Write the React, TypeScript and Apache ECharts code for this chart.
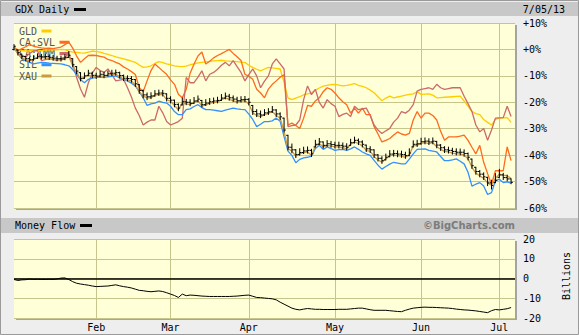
import React, { useEffect, useRef } from 'react';
import * as echarts from 'echarts';

// Trading days per month (2013)
const janDays = [2, 3, 4, 7, 8, 9, 10, 11, 14, 15, 16, 17, 18, 22, 23, 24, 25, 28, 29, 30, 31];
const febDays = [1, 4, 5, 6, 7, 8, 11, 12, 13, 14, 15, 19, 20, 21, 22, 25, 26, 27, 28];
const marDays = [1, 4, 5, 6, 7, 8, 11, 12, 13, 14, 15, 18, 19, 20, 21, 22, 25, 26, 27, 28];
const aprDays = [1, 2, 3, 4, 5, 8, 9, 10, 11, 12, 15, 16, 17, 18, 19, 22, 23, 24, 25, 26, 29, 30];
const mayDays = [1, 2, 3, 6, 7, 8, 9, 10, 13, 14, 15, 16, 17, 20, 21, 22, 23, 24, 28, 29, 30, 31];
const junDays = [3, 4, 5, 6, 7, 10, 11, 12, 13, 14, 17, 18, 19, 20, 21, 24, 25, 26, 27, 28];
const julDays = [1, 2, 3, 5];
const monthNames = ['Jan', 'Feb', 'Mar', 'Apr', 'May', 'Jun', 'Jul'];
const yPercentTicks = [-60, -50, -40, -30, -20, -10, 0, 10];
const yMoneyTicks = [-20, -10, 0, 10, 20];

const seriesNames = ['GLD', 'CA:SVL', 'CA:TMM', 'SIL', 'XAU'];
const seriesColors = ['#ffcc00', '#ff6a1c', '#cc6a6a', '#3390ff', '#cc9944'];

const gldValues = [
  0.3, 0, -0.4, -0.6, -0.5, -0.4, -0.3, -0.5, -0.2, -0.3,
  -0.1, -0.2, 0, -0.1, -0.6, -1.0, -1.1, -1.3, -1.4, -1.0,
  -0.6, -0.8, -1.0, -1.5, -1.9, -2.3, -2.8, -3.2, -3.6, -4.0,
  -4.4, -4.9, -5.9, -6.8, -6.6, -6.2, -5.3, -4.6, -5.0, -5.5,
  -5.8, -6.2, -6.4, -6.5, -6.3, -5.8, -5.5, -5.1, -4.9, -4.7,
  -4.5, -4.3, -4.2, -4.1, -4.3, -4.4, -4.5, -4.6, -4.8, -4.9,
  -6.0, -6.8, -7.5, -8.1, -7.4, -6.8, -7.0, -7.2, -7.4, -12.5,
  -18.3, -19.0, -18.4, -17.9, -17.2, -16.8, -16.4, -15.4, -14.6, -13.9,
  -13.6, -13.3, -13.2, -13.5, -13.8, -13.6, -13.3, -12.9, -13.6, -14.0,
  -14.5, -15.4, -16.4, -17.9, -19.4, -18.4, -17.7, -18.3, -18.0, -17.7,
  -17.3, -17.0, -16.8, -16.0, -17.0, -16.9, -16.8, -17.3, -18.3, -18.2,
  -18.1, -18.0, -17.9, -17.8, -17.7, -19.5, -21.5, -23.5, -24.3, -24.7,
  -26.5, -27.6, -28.6, -26.5, -26.0, -25.9, -25.8, -27.6,
];

const svlValues = [
  0.9, -0.4, 0.3, 1.0, 1.9, 1.2, 0.9, 0.6, 0.4, 0.5,
  0.3, 0.6, 0.9, 1.8, 2.8, 0.5, -2.5, -4.9, -3.5, -2.3,
  -2.2, -2.3, -2.6, -2.9, -3.8, -4.2, -4.9, -5.5, -6.6, -7.4,
  -8.4, -9.5, -14.5, -16.0, -11.9, -8.0, -5.5, -6.8, -8.2, -9.4,
  -11.5, -13.2, -17.0, -18.3, -15.1, -9.0, -5.5, -2.5, -1.0, -5.5,
  -4.5, -3.2, -2.3, -1.6, -0.8, 0, -1.5, -2.8, -4.2, -9.4,
  -10.2, -11.3, -15.1, -16.5, -18.3, -15.0, -13.2, -11.9, -10.5, -9.6,
  -28.6, -27.9, -28.8, -29.9, -26.0, -21.2, -21.5, -19.5, -18.3, -16.0,
  -14.5, -15.1, -16.5, -18.3, -19.8, -20.9, -24.1, -22.2, -24.1, -22.2,
  -24.7, -24.7, -29.2, -32.0, -35.0, -34.4, -33.7, -32.4, -31.2, -32.0,
  -32.4, -31.8, -26.7, -23.5, -26.0, -24.1, -24.1, -25.0, -26.7, -31.0,
  -34.4, -33.1, -33.1, -33.1, -32.8, -32.4, -34.4, -37.0, -39.5, -36.3,
  -42.7, -47.0, -51.0, -45.9, -45.9, -45.9, -36.9, -42.1,
];

const tmmValues = [
  0.9, -1.7, -2.3, -2.9, -1.5, -0.6, -0.4, -4.2, -3.9, -3.6,
  -3.8, -4.2, -3.5, -2.9, -1.7, -5.5, -10.6, -15.0, -18.1, -12.6,
  -9.0, -6.8, -8.0, -8.7, -7.4, -9.5, -11.9, -11.6, -11.3, -14.5,
  -18.0, -22.2, -25.0, -28.6, -27.5, -26.7, -26.7, -21.5, -24.0, -27.3,
  -28.6, -28.0, -27.3, -26.0, -10.6, -12.6, -12.6, -10.5, -8.1, -11.9,
  -9.4, -8.7, -7.5, -6.0, -4.9, -6.2, -4.2, -6.5, -8.7, -11.9,
  -9.5, -7.4, -10.0, -14.5, -12.0, -10.0, -5.5, -3.6, -5.5, -7.4,
  -29.2, -28.8, -28.6, -26.7, -19.0, -13.8, -17.1, -15.1, -20.0, -22.2,
  -19.0, -20.5, -21.5, -25.4, -24.6, -24.1, -25.4, -21.5, -22.8, -22.5,
  -22.2, -25.0, -28.6, -30.5, -31.8, -30.8, -29.9, -27.5, -26.0, -23.5,
  -24.1, -23.0, -20.9, -15.8, -15.1, -14.8, -14.5, -15.1, -13.2, -14.5,
  -15.1, -14.8, -14.5, -14.5, -14.5, -17.7, -20.5, -23.5, -28.6, -31.2,
  -29.9, -34.4, -30.5, -26.0, -25.9, -25.8, -21.5, -25.4,
];

const silValues = [
  0.9, -1.5, -3.6, -4.3, -4.9, -5.5, -5.2, -4.9, -5.0, -5.2,
  -5.3, -5.4, -5.5, -5.8, -6.2, -7.6, -9.4, -11.5, -12.6, -11.3,
  -10.9, -10.6, -10.6, -10.5, -10.4, -10.2, -10.0, -10.8, -11.3, -11.9,
  -12.8, -13.8, -16.0, -18.3, -21.2, -20.6, -20.3, -19.6, -20.0, -20.3,
  -21.5, -23.5, -24.7, -24.7, -22.8, -22.5, -21.6, -20.9, -22.0, -22.8,
  -22.8, -23.0, -23.2, -23.4, -23.0, -22.6, -22.2, -22.5, -22.7, -22.8,
  -24.5, -26.5, -29.2, -28.3, -27.3, -27.3, -27.0, -26.0, -27.2, -33.0,
  -38.5, -40.1, -42.9, -41.6, -41.0, -40.8, -40.4, -37.5, -36.3, -37.8,
  -36.9, -37.5, -38.2, -37.9, -37.8, -38.2, -37.6, -36.9, -37.8, -38.8,
  -39.5, -40.1, -42.0, -43.8, -45.3, -44.3, -43.4, -42.7, -43.0, -43.3,
  -43.3, -41.5, -39.5, -37.8, -37.7, -37.6, -38.2, -38.5, -38.8, -40.5,
  -42.1, -42.1, -41.8, -41.4, -42.3, -43.3, -46.5, -51.7, -51.0, -50.4,
  -51.7, -54.9, -54.2, -49.7, -49.1, -50.4, -50.1, -50.6,
];

const xauValues = [
  0.9, -1.7, -3.0, -4.0, -4.2, -3.8, -3.2, -3.0, -3.2, -3.4,
  -3.6, -3.9, -4.0, -3.6, -2.7, -6.2, -8.7, -11.3, -10.6, -9.6,
  -10.2, -10.6, -10.0, -10.2, -9.8, -9.6, -9.4, -10.3, -11.3, -11.5,
  -11.9, -13.5, -16.0, -17.7, -18.3, -18.3, -17.3, -17.1, -17.1, -19.0,
  -19.6, -21.2, -22.8, -20.3, -20.6, -20.9, -20.0, -19.4, -21.5, -21.0,
  -20.3, -20.1, -19.9, -19.0, -18.3, -18.9, -19.4, -19.9, -19.6, -19.4,
  -20.6, -24.0, -25.0, -25.4, -24.7, -24.2, -23.5, -25.0, -26.0, -31.0,
  -37.5, -38.5, -40.4, -39.5, -39.0, -38.8, -40.1, -36.5, -35.6, -36.9,
  -36.3, -36.6, -36.9, -36.9, -37.2, -37.6, -35.9, -35.0, -35.6, -36.5,
  -38.2, -38.6, -40.5, -41.8, -42.7, -41.4, -40.2, -40.0, -40.2, -40.4,
  -40.8, -39.8, -36.5, -36.3, -35.5, -35.3, -35.6, -35.3, -36.8, -37.8,
  -38.6, -38.8, -39.2, -39.5, -39.5, -40.0, -41.4, -44.6, -46.8, -47.8,
  -48.8, -50.5, -51.4, -48.8, -47.2, -47.6, -47.8, -48.8,
];

const gdxClose = [
  1.2, -1.2, -2.6, -3.5, -3.9, -3.3, -2.6, -2.8, -2.7, -3.0,
  -3.3, -3.5, -3.6, -3.0, -2.2, -5.8, -8.2, -10.9, -10.0, -9.0,
  -9.8, -10.1, -9.4, -9.8, -9.2, -9.0, -8.8, -9.9, -10.9, -11.0,
  -11.4, -13.0, -15.5, -17.2, -17.9, -17.6, -16.8, -16.5, -16.6, -18.5,
  -19.2, -20.8, -22.2, -19.8, -20.0, -20.4, -19.5, -18.8, -20.9, -20.3,
  -19.8, -19.5, -19.3, -18.4, -17.7, -18.3, -18.8, -19.4, -19.0, -18.9,
  -20.0, -23.5, -24.4, -24.8, -24.0, -23.6, -22.9, -24.4, -25.5, -30.5,
  -37.0, -38.0, -39.8, -39.0, -38.4, -38.2, -39.5, -35.9, -35.0, -36.3,
  -35.7, -36.0, -36.3, -36.3, -36.6, -37.0, -35.3, -34.4, -35.0, -35.9,
  -37.6, -38.0, -39.9, -41.2, -42.1, -40.8, -39.6, -39.4, -39.6, -39.8,
  -40.2, -39.2, -35.9, -35.7, -34.9, -34.7, -35.0, -34.7, -36.2, -37.2,
  -38.0, -38.2, -38.6, -38.9, -38.9, -39.4, -40.8, -44.0, -46.2, -47.2,
  -48.2, -50.5, -51.5, -49.5, -47.5, -48.5, -49.0, -50.3,
];

const gdxHigh = [
  1.8, -0.2, -1.8, -2.7, -2.9, -2.4, -1.7, -1.9, -1.8, -2.1,
  -2.3, -2.6, -2.5, -2.0, -0.8, -3.5, -6.5, -8.8, -8.9, -7.9,
  -8.6, -9.0, -8.3, -8.6, -8.2, -7.9, -7.8, -8.6, -9.7, -10.0,
  -10.3, -11.4, -13.3, -15.4, -16.5, -16.4, -15.6, -15.4, -15.5, -16.8,
  -17.9, -19.2, -20.6, -18.4, -18.9, -19.0, -18.2, -17.6, -19.3, -19.0,
  -18.6, -18.4, -18.1, -17.1, -16.5, -17.0, -17.6, -18.1, -17.9, -17.8,
  -18.6, -21.2, -22.8, -23.3, -22.8, -22.4, -21.6, -22.8, -24.0, -26.0,
  -32.5, -35.8, -37.9, -37.6, -37.0, -36.9, -37.8, -34.4, -33.7, -35.0,
  -34.5, -34.8, -35.1, -35.1, -35.4, -35.7, -34.0, -33.2, -33.9, -34.6,
  -36.2, -36.8, -38.0, -39.8, -40.6, -39.6, -38.3, -38.2, -38.4, -38.5,
  -38.9, -37.6, -34.6, -34.4, -33.6, -33.5, -33.8, -33.5, -34.8, -36.0,
  -36.8, -37.0, -37.4, -37.6, -37.7, -38.0, -39.2, -41.5, -44.6, -45.8,
  -46.7, -48.4, -49.5, -47.0, -45.4, -46.9, -47.6, -49.0,
];

const gdxLow = [
  -0.2, -2.1, -3.4, -4.3, -4.7, -4.1, -3.4, -3.6, -3.5, -3.8,
  -4.1, -4.3, -4.4, -3.9, -3.0, -6.6, -9.2, -11.9, -11.0, -9.9,
  -10.7, -11.0, -10.3, -10.7, -10.1, -9.9, -9.7, -10.8, -11.8, -11.9,
  -12.4, -14.0, -16.6, -18.3, -19.0, -18.6, -17.7, -17.4, -17.6, -19.5,
  -20.2, -21.7, -23.2, -21.0, -20.9, -21.3, -20.4, -19.8, -21.8, -21.2,
  -20.8, -20.4, -20.2, -19.3, -18.7, -19.2, -19.7, -20.3, -19.9, -19.8,
  -21.0, -24.6, -25.4, -25.8, -25.0, -24.6, -23.8, -25.4, -26.5, -31.2,
  -38.0, -39.1, -40.9, -40.0, -39.4, -39.2, -40.5, -36.9, -36.0, -37.3,
  -36.7, -37.0, -37.3, -37.3, -37.6, -38.0, -36.3, -35.4, -36.0, -36.9,
  -38.6, -39.0, -40.9, -42.2, -43.1, -41.8, -40.6, -40.4, -40.6, -40.8,
  -41.2, -40.2, -36.9, -36.7, -35.9, -35.7, -36.0, -35.7, -37.2, -38.2,
  -39.0, -39.2, -39.6, -39.9, -39.9, -40.4, -41.8, -45.0, -47.2, -48.2,
  -49.2, -51.5, -52.8, -50.4, -48.4, -49.2, -49.7, -50.8,
];

const moneyFlow = [
  -0.5, -1.0, -0.7, -0.6, -0.3, -0.5, -0.4, -0.5, -0.5, -0.4,
  -0.5, -0.2, 0.2, 0.3, -0.5, -1.6, -2.4, -2.8, -3.1, -3.4,
  -3.8, -4.1, -4.0, -3.9, -3.8, -3.5, -3.2, -3.7, -4.1, -4.4,
  -4.8, -5.4, -6.0, -6.2, -6.5, -6.7, -6.5, -6.3, -6.6, -7.2,
  -7.9, -8.6, -9.6, -7.9, -8.7, -8.4, -8.5, -8.7, -8.9, -9.0,
  -9.1, -9.1, -9.1, -9.1, -9.1, -9.1, -9.0, -8.9, -8.7, -8.5,
  -8.4, -9.0, -9.6, -9.7, -9.9, -10.1, -10.3, -10.8, -12.0, -13.0,
  -14.0, -15.0, -15.6, -15.9, -15.5, -15.2, -15.4, -15.6, -15.6, -15.7,
  -15.7, -15.7, -15.7, -15.6, -15.6, -15.6, -15.4, -15.2, -15.0, -15.0,
  -15.4, -15.8, -16.1, -16.1, -16.1, -16.1, -16.3, -16.5, -16.7, -16.8,
  -16.1, -15.5, -15.0, -14.8, -14.6, -14.5, -14.6, -14.6, -14.7, -14.8,
  -14.9, -15.0, -15.2, -15.5, -15.7, -15.9, -16.0, -16.2, -16.4, -16.7,
  -17.0, -17.3, -16.3, -15.7, -15.9, -15.6, -15.3, -14.7,
];

const pad2 = (n: number) => (n < 10 ? '0' + n : '' + n);
const tradingDates: string[] = [];
[janDays, febDays, marDays, aprDays, mayDays, junDays, julDays].forEach((days, m) =>
  days.forEach((d) => tradingDates.push(`2013-${pad2(m + 1)}-${pad2(d)}`))
);
const categories = [...tradingDates, '2013-07-08'];
const monthStarts = new Set<number>();
categories.forEach((c, i) => {
  if (i > 0 && i < tradingDates.length && c.slice(5, 7) !== categories[i - 1].slice(5, 7)) monthStarts.add(i);
});
const isMonthStart = (idx: number) => monthStarts.has(idx);

const lineValues = [gldValues, svlValues, tmmValues, silValues, xauValues];

const MONO = '"DejaVu Sans Mono", "Liberation Mono", monospace';
const GRID_COLOR = '#c6c68c';

export default function App() {
  const ref = useRef<HTMLDivElement>(null);
  useEffect(() => {
    if (!ref.current) return;
    const chart = echarts.init(ref.current, null, { renderer: 'svg' });

    const gdxData = gdxClose.map((c, i) => {
      const prev = i === 0 ? 0 : gdxClose[i - 1];
      const open = Math.min(gdxHigh[i], Math.max(gdxLow[i], prev));
      return [i, open, gdxHigh[i], gdxLow[i], c];
    });

    const legendGraphics: any[] = [];
    seriesNames.forEach((name, i) => {
      const y = 31 + i * 11.25;
      legendGraphics.push({
        type: 'text',
        z: 1,
        style: {
          text: name, x: 19, y, font: `10px ${MONO}`, fill: '#555555',
          align: 'left', verticalAlign: 'middle', textAlign: 'left', textVerticalAlign: 'middle',
        },
      });
      legendGraphics.push({
        type: 'rect',
        z: 1,
        shape: { x: 19 + name.length * 6 + 4.5, y: y - 1.5, width: 10, height: 3 },
        style: { fill: seriesColors[i] },
      });
    });

    const txt = (text: string, x: number, y: number, extra: any = {}) => ({
      type: 'text',
      z: 5,
      style: {
        text, x, y, font: `10px ${MONO}`, fill: '#000',
        align: 'left', verticalAlign: 'middle', textAlign: 'left', textVerticalAlign: 'middle',
        ...extra,
      },
    });

    const option: any = {
      animation: false,
      backgroundColor: '#eeeeee',
      graphic: [
        { type: 'rect', z: -20, shape: { x: 0.5, y: 0.5, width: 578, height: 334 }, style: { fill: '#eeeeee', stroke: '#9a9a9a', lineWidth: 1 } },
        { type: 'rect', z: -19, shape: { x: 1, y: 2, width: 577, height: 14 }, style: { fill: '#c8c8c8' } },
        { type: 'rect', z: -19, shape: { x: 1, y: 218, width: 577, height: 15 }, style: { fill: '#c8c8c8' } },
        { type: 'rect', z: -18, shape: { x: 16, y: 25, width: 501, height: 185 }, style: { fill: '#a4a4a4' } },
        { type: 'rect', z: -18, shape: { x: 16, y: 241, width: 501, height: 79 }, style: { fill: '#a4a4a4' } },
        { type: 'rect', z: -17, shape: { x: 14, y: 23, width: 501, height: 185 }, style: { fill: '#ffffd8' } },
        { type: 'rect', z: -17, shape: { x: 14, y: 239, width: 501, height: 79 }, style: { fill: '#ffffd8' } },
        txt('GDX Daily', 15, 9.5),
        { type: 'rect', z: 5, shape: { x: 74, y: 8, width: 12, height: 3 }, style: { fill: '#000' } },
        txt('7/05/13', 565, 9, { align: 'right', textAlign: 'right' }),
        txt('Money Flow', 15, 225.5),
        { type: 'rect', z: 5, shape: { x: 80, y: 224, width: 12, height: 3 }, style: { fill: '#000' } },
        txt('©BigCharts.com', 515, 225.5, {
          align: 'right', textAlign: 'right', fill: '#7c7c7c',
          font: 'bold 10px "DejaVu Sans", Verdana, sans-serif',
        }),
        {
          type: 'text', z: 5, x: 566.5, y: 276, rotation: Math.PI / 2,
          style: {
            text: 'Billions', x: 0, y: 0, font: `10px ${MONO}`, fill: '#000',
            align: 'center', verticalAlign: 'middle', textAlign: 'center', textVerticalAlign: 'middle',
          },
        },
        ...legendGraphics,
      ],
      grid: [
        { left: 14, top: 23, width: 501, height: 185, show: false },
        { left: 14, top: 239, width: 501, height: 79, show: false },
      ],
      xAxis: [0, 1].map((g) => ({
        type: 'category',
        gridIndex: g,
        data: categories,
        boundaryGap: false,
        axisLine: { show: false },
        axisTick: { show: false },
        axisLabel: {
          show: g === 1,
          interval: (idx: number) => isMonthStart(idx),
          formatter: (v: string) => monthNames[parseInt(v.slice(5, 7), 10) - 1],
          margin: 4,
          fontFamily: MONO,
          fontSize: 10,
          color: '#000',
        },
        splitLine: {
          show: true,
          interval: (idx: number) => isMonthStart(idx),
          lineStyle: { color: GRID_COLOR, width: 1 },
        },
      })),
      yAxis: [
        {
          type: 'value', gridIndex: 0, position: 'right',
          min: yPercentTicks[0], max: yPercentTicks[yPercentTicks.length - 1], interval: 10,
          axisLine: { show: false }, axisTick: { show: false },
          axisLabel: {
            margin: 8, fontFamily: MONO, fontSize: 10, color: '#000',
            formatter: (v: number) => (v >= 0 ? '+' : '') + v + '%',
          },
          splitLine: { lineStyle: { color: GRID_COLOR, width: 1 } },
        },
        {
          type: 'value', gridIndex: 1, position: 'right',
          min: yMoneyTicks[0], max: yMoneyTicks[yMoneyTicks.length - 1], interval: 10,
          axisLine: { show: false }, axisTick: { show: false },
          axisLabel: { margin: 8, fontFamily: MONO, fontSize: 10, color: '#000' },
          splitLine: { lineStyle: { color: GRID_COLOR, width: 1 } },
        },
      ],
      series: [
        ...seriesNames.map((name, i) => ({
          name,
          type: 'line',
          xAxisIndex: 0,
          yAxisIndex: 0,
          data: lineValues[i],
          symbol: 'none',
          lineStyle: { color: seriesColors[i], width: 1.3 },
          z: 2 + i * 0.1,
        })),
        {
          name: 'GDX',
          type: 'custom',
          xAxisIndex: 0,
          yAxisIndex: 0,
          data: gdxData,
          encode: { x: 0, y: [1, 2, 3, 4] },
          z: 4,
          renderItem: (params: any, api: any) => {
            const x = api.value(0);
            const hi = api.coord([x, api.value(2)]);
            const lo = api.coord([x, api.value(3)]);
            const op = api.coord([x, api.value(1)]);
            const cl = api.coord([x, api.value(4)]);
            const st = { stroke: '#000', lineWidth: 1 };
            return {
              type: 'group',
              children: [
                { type: 'line', shape: { x1: hi[0], y1: hi[1] - 0.5, x2: lo[0], y2: lo[1] + 0.5 }, style: st },
                { type: 'line', shape: { x1: op[0] - 1.8, y1: op[1], x2: op[0], y2: op[1] }, style: st },
                { type: 'line', shape: { x1: cl[0], y1: cl[1], x2: cl[0] + 1.8, y2: cl[1] }, style: st },
              ],
            };
          },
        },
        {
          name: 'Money Flow',
          type: 'line',
          xAxisIndex: 1,
          yAxisIndex: 1,
          data: moneyFlow,
          symbol: 'none',
          lineStyle: { color: '#000', width: 1 },
          markLine: {
            silent: true,
            symbol: 'none',
            label: { show: false },
            lineStyle: { color: '#000', width: 1.5, type: 'solid' },
            data: [{ yAxis: 0 }],
          },
        },
      ],
    };

    chart.setOption(option);
    return () => chart.dispose();
  }, []);

  return <div ref={ref} style={{ position: 'fixed', left: 0, top: 0, width: 579, height: 335 }} />;
}
